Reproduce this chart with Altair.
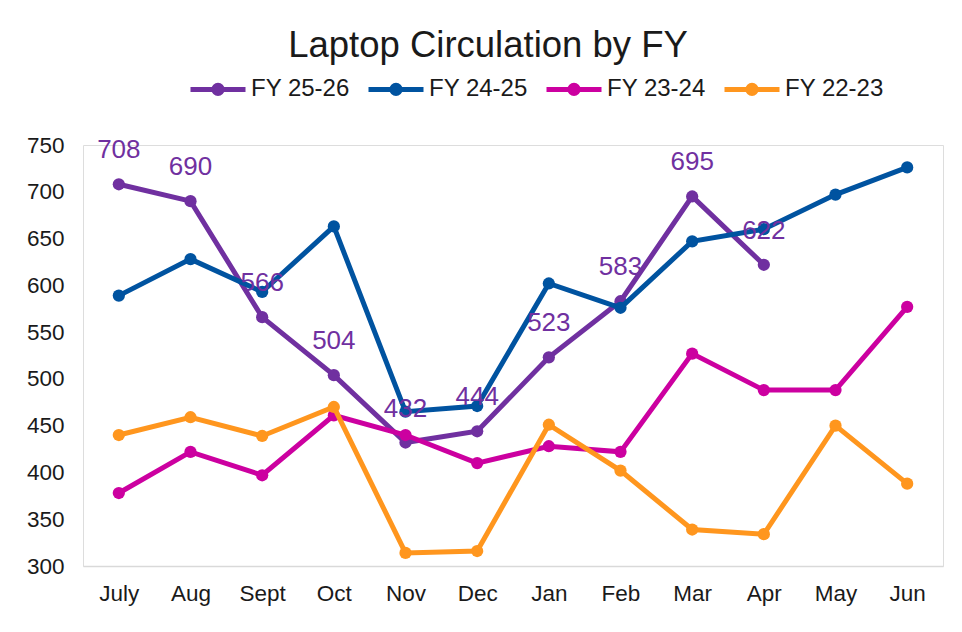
import altair as alt
import pandas as pd

months = ["July", "Aug", "Sept", "Oct", "Nov", "Dec", "Jan", "Feb", "Mar", "Apr", "May", "Jun"]
series_names = ["FY 25-26", "FY 24-25", "FY 23-24", "FY 22-23"]
series_colors = ["#7030A0", "#0053A0", "#CC00A0", "#FF961E"]

fy2526 = [708, 690, 566, 504, 432, 444, 523, 583, 695, 622]
fy2425 = [589, 628, 593, 663, 465, 471, 602, 576, 647, 660, 697, 726]
fy2324 = [378, 422, 397, 461, 440, 410, 428, 422, 527, 488, 488, 577]
fy2223 = [440, 459, 439, 470, 314, 316, 451, 402, 339, 334, 450, 388]

rows = []
for name, vals in zip(series_names, [fy2526, fy2425, fy2324, fy2223]):
    for m, v in zip(months, vals):
        rows.append({"Month": m, "Series": name, "Value": v})
df = pd.DataFrame(rows)

FONT = "Liberation Sans"
TXT = "#1a1a1a"

color_scale = alt.Scale(domain=series_names, range=series_colors)
x_enc = alt.X("Month:N", sort=months, scale=alt.Scale(domain=months, paddingInner=0, paddingOuter=0.5),
              axis=alt.Axis(title=None, labelAngle=0, labelFontSize=22.5, labelColor=TXT,
                            labelFont=FONT, ticks=False, domainColor="#D9D9D9",
                            domainWidth=1.5, labelPadding=16, grid=False))
y_enc = alt.Y("Value:Q", scale=alt.Scale(domain=[300, 750], nice=False, zero=False),
              axis=alt.Axis(title=None, values=list(range(300, 751, 50)), labelFontSize=22.5,
                            labelColor=TXT, labelFont=FONT, ticks=False,
                            domain=False, grid=False, labelPadding=19))

legend = alt.Legend(title=None, orient="none", direction="horizontal", legendX=105, legendY=-86,
                    symbolType="M-1,0L1,0M-0.15,0A0.15,0.15 0 1,0 0.15,0A0.15,0.15 0 1,0 -0.15,0",
                    symbolSize=3025, symbolStrokeWidth=5, labelFontSize=24, labelFont=FONT,
                    labelColor=TXT, labelOffset=3, columnPadding=8, symbolOpacity=1)

base = alt.Chart(df)
layers = []
for i, name in enumerate(series_names):
    sub = base.transform_filter(alt.datum.Series == name)
    line = sub.mark_line(strokeWidth=5).encode(
        x=x_enc, y=y_enc,
        color=alt.Color("Series:N", scale=color_scale, sort=series_names,
                        legend=legend if i == 0 else None))
    pts = sub.mark_point(filled=True, size=150, opacity=1).encode(
        x=x_enc, y=y_enc,
        color=alt.Color("Series:N", scale=color_scale, sort=series_names, legend=None))
    layers += [line, pts]

labels = base.transform_filter(alt.datum.Series == "FY 25-26").mark_text(
    fontSize=26, font=FONT, color="#7030A0", baseline="alphabetic", dy=-26
).encode(x=x_enc, y=y_enc, text="Value:Q")
layers.append(labels)

chart = alt.layer(*layers).properties(
    width=860, height=421,
    autosize=alt.AutoSizeParams(type="none"),
    padding={"left": 75, "top": 137, "right": 10, "bottom": 50},
    title=alt.TitleParams("Laptop Circulation by FY", fontSize=36.5, font=FONT,
                          fontWeight="normal", color=TXT, anchor="middle", offset=-5, dx=-25)
).configure_view(strokeWidth=0).configure(background="white")

chart.save("out.html", embed_options={"renderer": "svg", "actions": False})
